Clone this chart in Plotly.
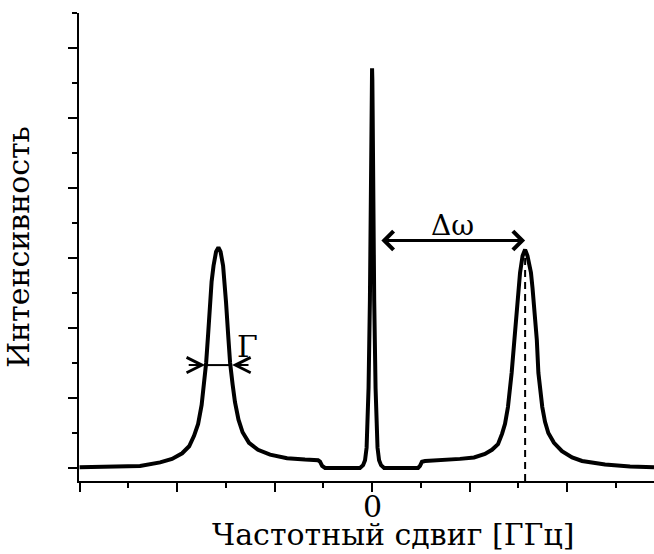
import plotly.graph_objects as go

# Brillouin-type spectrum: central elastic line plus two shifted side peaks
shift_ghz = [
    -15.0, -13.44, -11.90, -10.87, -10.26, -9.74, -9.38, -9.13, -8.92, -8.74,
    -8.62, -8.51, -8.41, -8.33, -8.23, -8.13, -8.00, -7.88, -7.77, -7.64,
    -7.56, -7.49, -7.38, -7.28, -7.15, -7.03, -6.85, -6.64, -6.31, -5.85,
    -5.23, -4.36, -3.44, -2.77, -2.67, -2.56, -2.41,
    -0.62, -0.46, -0.36, -0.28, -0.22, -0.18, -0.11, -0.05, -0.03, -0.015, 0.0,
    0.015, 0.03, 0.05, 0.11, 0.18, 0.22, 0.28, 0.36, 0.46, 0.62,
    2.36, 2.46, 2.56, 2.72, 3.49, 4.51, 5.23, 5.79, 6.15, 6.46,
    6.67, 6.82, 6.97, 7.08, 7.16, 7.30, 7.42, 7.51, 7.59, 7.72,
    7.85, 7.97, 8.15, 8.23, 8.32, 8.45, 8.53, 8.62, 8.73, 8.87,
    9.04, 9.33, 9.74, 10.26, 10.77, 11.95, 13.23, 14.46,
]
intensity = [
    0.01, 0.015, 0.03, 0.08, 0.13, 0.21, 0.31, 0.46, 0.63, 0.90,
    1.19, 1.50, 1.90, 2.37, 2.66, 2.89, 3.09, 3.15, 3.09, 2.89,
    2.66, 2.37, 1.90, 1.50, 1.19, 0.94, 0.69, 0.51, 0.36, 0.26,
    0.19, 0.14, 0.12, 0.11, 0.09, 0.03, 0.0,
    0.0, 0.04, 0.11, 0.29, 0.69, 1.14, 2.40, 4.00, 5.11, 5.55, 5.71,
    5.55, 5.11, 4.00, 2.40, 1.14, 0.69, 0.29, 0.11, 0.04, 0.0,
    0.0, 0.03, 0.09, 0.10, 0.11, 0.13, 0.15, 0.20, 0.26, 0.34,
    0.49, 0.63, 0.87, 1.11, 1.36, 1.83, 2.30, 2.57, 2.79, 3.03,
    3.12, 3.03, 2.79, 2.57, 2.30, 1.83, 1.36, 1.11, 0.87, 0.66,
    0.50, 0.36, 0.24, 0.15, 0.10, 0.05, 0.02, 0.01,
]

# axis ticks (GHz / arbitrary units)
x_major = [-15, -10, -5, 0, 5, 10]
x_minor = [-12.5, -7.5, -2.5, 2.5, 7.5, 12.5]
y_major = [0, 1, 2, 3, 4, 5, 6]
y_minor = [0.5, 1.5, 2.5, 3.5, 4.5, 5.5, 6.5]
x_range = [-15.03, 14.46]
y_range = [-0.186, 6.5]

# markers for the shift and the linewidth
stokes_peak = 7.85          # right peak position
stokes_height = 3.12
shift_arrow_y = 3.25
shift_arrow_from = 0.40
gamma_level = 1.47
gamma_left = -8.56
gamma_right = -7.18
gamma_arm = 0.92

FONT = "DejaVu Serif"

fig = go.Figure()
fig.add_trace(go.Scatter(
    x=shift_ghz, y=intensity, mode="lines",
    line=dict(color="black", width=4),
    showlegend=False, hoverinfo="skip",
))

# dashed drop line under the right peak
fig.add_shape(type="line", xref="x", yref="y",
              x0=stokes_peak, x1=stokes_peak, y0=y_range[0], y1=stokes_height - 0.1,
              line=dict(color="black", width=2, dash="7px,5px"))

# Γ bar between the half-height edges
fig.add_shape(type="line", xref="x", yref="y",
              x0=gamma_left, x1=gamma_right, y0=gamma_level, y1=gamma_level,
              line=dict(color="black", width=2))

arrow_common = dict(xref="x", yref="y", axref="x", ayref="y", text="",
                    showarrow=True, arrowcolor="black")
# Δω double arrow
fig.add_annotation(x=stokes_peak, y=shift_arrow_y, ax=shift_arrow_from, ay=shift_arrow_y,
                   arrowside="end+start", arrowhead=4, startarrowhead=4,
                   arrowwidth=3, arrowsize=1.2, startarrowsize=1.2, **arrow_common)
# Γ inward arrowheads
fig.add_annotation(x=gamma_left, y=gamma_level, ax=gamma_left - gamma_arm, ay=gamma_level,
                   arrowhead=5, arrowwidth=2, arrowsize=1.5, **arrow_common)
fig.add_annotation(x=gamma_right, y=gamma_level, ax=gamma_right + gamma_arm, ay=gamma_level,
                   arrowhead=5, arrowwidth=2, arrowsize=1.5, **arrow_common)

fig.add_annotation(x=(shift_arrow_from + stokes_peak) / 2, y=3.47, xref="x", yref="y",
                   text="Δω", showarrow=False, font=dict(family=FONT, size=28, color="black"))
fig.add_annotation(x=-6.41, y=1.74, xref="x", yref="y",
                   text="Γ", showarrow=False, font=dict(family=FONT, size=30, color="black"))

# tick label at zero shift
fig.add_annotation(x=0, y=-0.013, xref="x", yref="paper",
                   text="0", showarrow=False, yanchor="top",
                   font=dict(family=FONT, size=30, color="black"))

# axis titles
fig.add_annotation(x=0.546, y=-0.115, xref="paper", yref="paper",
                   text="Частотный сдвиг [ГГц]", showarrow=False,
                   xanchor="center", yanchor="middle",
                   font=dict(family=FONT, size=30, color="black"))
fig.add_annotation(x=-0.106, y=0.50, xref="paper", yref="paper",
                   text="Интенсивность", showarrow=False, textangle=-90,
                   xanchor="center", yanchor="middle",
                   font=dict(family=FONT, size=30, color="black"))

fig.update_layout(
    width=654, height=554,
    margin=dict(l=79, r=0, t=13, b=73),
    paper_bgcolor="white", plot_bgcolor="white",
    font=dict(family=FONT, color="black"),
    xaxis=dict(
        range=x_range, showgrid=False, zeroline=False,
        showline=True, linecolor="black", linewidth=2,
        ticks="outside", ticklen=9, tickwidth=2, tickcolor="black",
        tickvals=x_major, showticklabels=False,
        minor=dict(tickvals=x_minor, ticks="outside", ticklen=5, tickwidth=2, tickcolor="black"),
    ),
    xaxis2=dict(
        range=x_range, overlaying="x", side="top", anchor="y", matches="x",
        showgrid=False, zeroline=False,
        showline=True, linecolor="black", linewidth=2,
        ticks="inside", ticklen=8, tickwidth=2, tickcolor="black",
        tickvals=x_major, showticklabels=False,
        minor=dict(tickvals=x_minor, ticks="inside", ticklen=4, tickwidth=2, tickcolor="black"),
    ),
    yaxis=dict(
        range=y_range, showgrid=False, zeroline=False,
        showline=True, linecolor="black", linewidth=2,
        ticks="outside", ticklen=9, tickwidth=2, tickcolor="black",
        tickvals=y_major, showticklabels=False,
        minor=dict(tickvals=y_minor, ticks="outside", ticklen=5, tickwidth=2, tickcolor="black"),
    ),
)

fig.write_html("out.html")
